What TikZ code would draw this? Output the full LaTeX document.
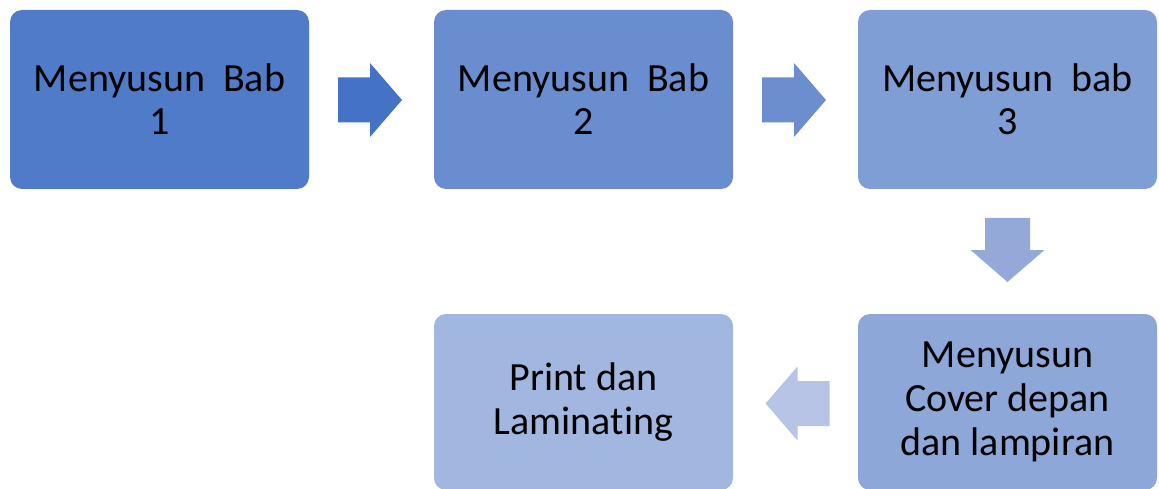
\documentclass[tikz,border=0pt]{standalone}
\usepackage{fontspec}
\setmainfont[Ligatures={NoCommon}]{Carlito}
\usetikzlibrary{calc}
\definecolor{cA}{RGB}{80,123,200}
\definecolor{cB}{RGB}{105,141,207}
\definecolor{cC}{RGB}{127,158,213}
\definecolor{cD}{RGB}{140,167,216}
\definecolor{cE}{RGB}{161,183,223}
\definecolor{aA}{RGB}{68,114,196}
\definecolor{aB}{RGB}{108,141,206}
\definecolor{aC}{RGB}{149,169,217}
\definecolor{aD}{RGB}{183,196,229}
\tikzset{
  stepbox/.style={rounded corners=12pt, minimum width=299pt, align=center,
    inner sep=0pt, text=black, font=\fontsize{40}{44}\selectfont}
}
\newcommand{\blkarrow}[3]{%
  \begin{scope}[shift={(#1)}, rotate=#2]
    \fill[#3] (-32,-22.5) -- (0,-22.5) -- (0,-37) -- (32,0) -- (0,37) -- (0,22.5) -- (-32,22.5) -- cycle;
  \end{scope}}
\begin{document}
\begin{tikzpicture}[x=1pt,y=-1pt]
\useasboundingbox (0,0) rectangle (1159,489);
\node[stepbox, fill=cA, minimum height=179pt] (b1) at (159.5,99.5) {Menyusun~~Bab\\[-1pt]1};
\node[stepbox, fill=cB, minimum height=179pt] (b2) at (583.5,99.5) {Menyusun~~Bab\\[-1pt]2};
\node[stepbox, fill=cC, minimum height=179pt] (b3) at (1007.5,99.5) {Menyusun~~bab\\[-1pt]3};
\node[stepbox, fill=cD, minimum height=176pt] (b4) at (1007.5,402) {Menyusun\\Cover depan\\dan lampiran};
\node[stepbox, fill=cE, minimum height=176pt] (b5) at (583.5,402) {Print dan\\Laminating};
\coordinate (m12) at ($(b1.east)!0.5!(b2.west)+(-1.5,0.5)$);
\coordinate (m23) at ($(b2.east)!0.5!(b3.west)+(-1.5,0.5)$);
\coordinate (m34) at ($(b3.south)!0.5!(b4.north)+(0,-1.5)$);
\coordinate (m45) at ($(b4.west)!0.5!(b5.east)+(2,1.5)$);
\blkarrow{m12}{0}{aA}
\blkarrow{m23}{0}{aB}
\blkarrow{m34}{270}{aC}
\blkarrow{m45}{180}{aD}
\end{tikzpicture}
\end{document}
